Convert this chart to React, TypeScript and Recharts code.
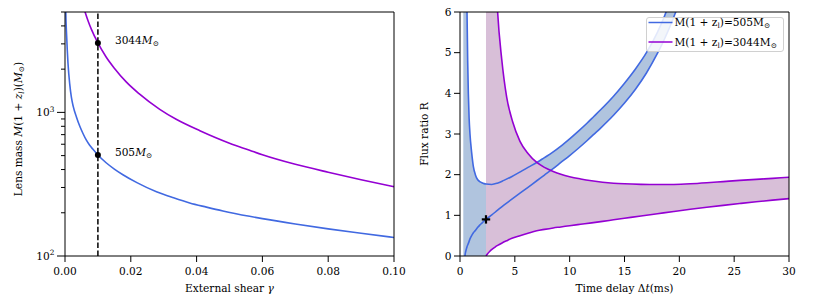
import React from 'react';
import { ComposedChart, Line, Area, Scatter, XAxis, YAxis, ReferenceLine } from 'recharts';

const FONT = "'DejaVu Serif', serif";
const FS = 10.6;
const SUB = 7.4;
const BLUE = '#4169e1';
const PURPLE = '#9400d3';
const BLUE_FILL = '#b0c4de';
const PURPLE_FILL = '#d8bfd8';

// ---------- Left panel: lens mass vs external shear ----------
const SHEAR_TICKS = [0, 0.02, 0.04, 0.06, 0.08, 0.1];
const MASS_TICKS = [100, 200, 300, 400, 500, 600, 700, 800, 900, 1000, 2000, 3000, 4000, 5000];

const BLUE_GAMMA = [0.0001, 0.00021, 0.0005, 0.00091, 0.00143, 0.00195, 0.0025, 0.0035, 0.0045, 0.0055, 0.0065, 0.0075, 0.0085, 0.01, 0.0125, 0.015, 0.0176, 0.022, 0.0278, 0.033, 0.0379, 0.043, 0.048, 0.0561, 0.06, 0.07, 0.08, 0.09, 0.1];
const BLUE_MASS = [9000, 5380, 3400, 2200, 1580, 1270, 1100, 925, 800, 710, 640, 590, 553, 505, 446, 403, 368, 323, 280, 254, 234, 219, 206, 189, 182, 167, 154.5, 144, 134.5];

const PURPLE_GAMMA = [0.0045, 0.0055, 0.0061, 0.007, 0.008, 0.01, 0.0125, 0.015, 0.0186, 0.0225, 0.0288, 0.0338, 0.041, 0.05, 0.0561, 0.06, 0.07, 0.08, 0.09, 0.1];
const PURPLE_MASS = [6800, 5550, 5000, 4350, 3800, 3044, 2430, 2030, 1630, 1350, 1050, 895, 745, 610, 545, 507, 435, 383, 340, 304];

const MARKED_GAMMA = 0.01;
const MARKED_MASSES = [3044, 505];
const MARKED_LABELS = ['3044', '505'];

// ---------- Right panel: flux ratio vs time delay ----------
const DELAY_TICKS = [0, 5, 10, 15, 20, 25, 30];
const RATIO_TICKS = [0, 1, 2, 3, 4, 5, 6];

const BLUE_T = [0.3, 0.45, 0.5, 0.55, 0.6, 0.64, 0.7, 0.76, 0.83, 0.91, 1.06, 1.22, 1.4, 1.6, 1.8, 2.0, 2.2, 2.37, 2.9, 3.4, 4.0, 4.7, 5.5, 6.2, 7.0, 7.7, 8.4, 9.2, 10.0, 10.8, 11.6, 12.2, 12.8, 14.0, 15.0, 16.0, 17.0, 18.0, 18.5, 19.0, 19.6, 20.0];
const BLUE_UPPER = [30, 14, 11, 9, 7.2, 6.0, 4.8, 4.0, 3.4, 3.0, 2.55, 2.2, 2.0, 1.88, 1.83, 1.8, 1.78, 1.77, 1.76, 1.79, 1.86, 1.95, 2.07, 2.18, 2.3, 2.42, 2.54, 2.7, 2.88, 3.07, 3.27, 3.43, 3.59, 3.93, 4.25, 4.6, 5.0, 5.5, 5.8, 6.15, 6.6, 6.9];
const BLUE_LOWER = [null, 0, 0.09, 0.14, 0.19, 0.23, 0.27, 0.31, 0.36, 0.42, 0.5, 0.57, 0.63, 0.7, 0.76, 0.81, 0.86, 0.9, 1.01, 1.12, 1.25, 1.39, 1.55, 1.69, 1.85, 1.99, 2.13, 2.3, 2.47, 2.65, 2.84, 2.99, 3.14, 3.46, 3.76, 4.1, 4.5, 4.98, 5.25, 5.55, 5.95, 6.22];

const PURPLE_T = [2.37, 2.5, 2.7, 3.0, 3.2, 3.43, 3.8, 4.26, 4.8, 5.47, 6.2, 7.0, 7.7, 8.5, 9.2, 10.0, 11.0, 12.0, 13.0, 14.0, 15.0, 16.5, 18.0, 19.5, 21.0, 22.5, 24.0, 25.5, 27.0, 28.5, 30.0];
const PURPLE_UPPER = [60, 40, 17, 9.3, 7.3, 6.0, 4.85, 3.9, 3.3, 2.82, 2.52, 2.3, 2.18, 2.08, 2.01, 1.95, 1.895, 1.85, 1.815, 1.79, 1.775, 1.762, 1.757, 1.76, 1.775, 1.8, 1.83, 1.86, 1.885, 1.91, 1.935];
const PURPLE_LOWER = [0, 0.05, 0.11, 0.18, 0.22, 0.26, 0.315, 0.375, 0.44, 0.5, 0.56, 0.62, 0.655, 0.69, 0.715, 0.745, 0.78, 0.815, 0.852, 0.89, 0.928, 0.985, 1.04, 1.095, 1.148, 1.198, 1.245, 1.29, 1.333, 1.373, 1.41];

const PURPLE_START_T = 2.37;
const OBS_T = [2.37];
const OBS_R = [0.9];
const LEGEND_MASSES = ['505', '3044'];
const LEGEND_COLORS = [BLUE, PURPLE];

type Part = { key: string; xs: number[]; ys: any[] };
function mergeRows(xKey: string, parts: Part[]) {
  const map = new Map<number, any>();
  parts.forEach((p) =>
    p.xs.forEach((x, i) => {
      const y = p.ys[i];
      if (y == null) return;
      let row = map.get(x);
      if (!row) {
        row = { [xKey]: x };
        map.set(x, row);
      }
      row[p.key] = y;
    })
  );
  return Array.from(map.values()).sort((a, b) => a[xKey] - b[xKey]);
}

const leftData = mergeRows('g', [
  { key: 'b', xs: BLUE_GAMMA, ys: BLUE_MASS },
  { key: 'p', xs: PURPLE_GAMMA, ys: PURPLE_MASS },
]);

const blueFill = BLUE_T.map((t, i) =>
  t <= PURPLE_START_T ? [0, BLUE_UPPER[i]] : [BLUE_LOWER[i], BLUE_UPPER[i]]
);
const purpleFill = PURPLE_T.map((_, i) => [PURPLE_LOWER[i], PURPLE_UPPER[i]]);

const rightData = mergeRows('t', [
  { key: 'bu', xs: BLUE_T, ys: BLUE_UPPER },
  { key: 'bl', xs: BLUE_T, ys: BLUE_LOWER },
  { key: 'pu', xs: PURPLE_T, ys: PURPLE_UPPER },
  { key: 'pl', xs: PURPLE_T, ys: PURPLE_LOWER },
  { key: 'bf', xs: BLUE_T, ys: blueFill },
  { key: 'pf', xs: PURPLE_T, ys: purpleFill },
]);

const markedData = MARKED_MASSES.map((m, i) => ({ g: MARKED_GAMMA, m, label: MARKED_LABELS[i] }));
const obsData = OBS_T.map((t, i) => ({ t, r: OBS_R[i] }));

const txt = { fontFamily: FONT, fontSize: FS, fill: '#000' } as const;

const makeXTick = (fmt: (v: number) => string) => (props: any) => {
  const { x, y, payload } = props;
  return (
    <g>
      <line x1={x} x2={x} y1={y} y2={y + 6} stroke="#000" strokeWidth={1} />
      <text x={x} y={y + 18.5} textAnchor="middle" {...txt}>
        {fmt(payload.value)}
      </text>
    </g>
  );
};

const LinYTick = (props: any) => {
  const { x, y, payload } = props;
  return (
    <g>
      <line x1={x - 6} x2={x} y1={y} y2={y} stroke="#000" strokeWidth={1} />
      <text x={x - 8.5} y={y + 3.8} textAnchor="end" {...txt}>
        {String(payload.value)}
      </text>
    </g>
  );
};

const LogYTick = (props: any) => {
  const { x, y, payload } = props;
  const lv = Math.log10(payload.value);
  const exp = Math.round(lv);
  const major = Math.abs(lv - exp) < 1e-6;
  const len = major ? 8 : 4;
  return (
    <g>
      <line x1={x - len} x2={x} y1={y} y2={y} stroke="#000" strokeWidth={1} />
      {major && (
        <text x={x - len - 2.5} y={y + 3.8} textAnchor="end" {...txt}>
          10
          <tspan fontSize={SUB} dy={-4.6}>
            {exp}
          </tspan>
        </text>
      )}
    </g>
  );
};

const MarkedDot = (props: any) => {
  const { cx, cy, payload } = props;
  return (
    <g>
      <circle cx={cx} cy={cy} r={3} fill="#000" />
      <text x={cx + 17} y={cy + 0.6} {...txt}>
        {payload.label}
        <tspan fontStyle="italic">M</tspan>
        <tspan fontSize={SUB} dy={2.4}>⊙</tspan>
      </text>
    </g>
  );
};

const PlusMarker = (props: any) => {
  const { cx, cy } = props;
  return (
    <g stroke="#000" strokeWidth={2.2}>
      <line x1={cx - 4.2} x2={cx + 4.2} y1={cy} y2={cy} />
      <line x1={cx} x2={cx} y1={cy - 4.2} y2={cy + 4.2} />
    </g>
  );
};

const lineProps = {
  type: 'monotone' as const,
  dot: false,
  activeDot: false,
  strokeWidth: 1.6,
  connectNulls: true,
  isAnimationActive: false,
};

export default function App() {
  return (
    <div style={{ position: 'absolute', left: 0, top: 0, width: 814, height: 305, background: '#fff', overflow: 'hidden' }}>
      <div style={{ position: 'absolute', left: 0, top: 0 }}>
        <ComposedChart width={410} height={305} data={leftData} margin={{ top: 12, right: 16, bottom: 0, left: 0 }}>
          <XAxis
            dataKey="g"
            type="number"
            domain={[0, 0.1]}
            ticks={SHEAR_TICKS}
            interval={0}
            allowDataOverflow
            height={49}
            tickSize={0}
            tickMargin={0}
            tickLine={false}
            axisLine={{ stroke: '#000', strokeWidth: 1 }}
            tick={makeXTick((v) => v.toFixed(2))}
          />
          <YAxis
            type="number"
            scale="log"
            domain={[100, 5000]}
            ticks={MASS_TICKS}
            interval={0}
            allowDataOverflow
            width={65}
            tickSize={0}
            tickMargin={0}
            tickLine={false}
            axisLine={{ stroke: '#000', strokeWidth: 1 }}
            tick={LogYTick}
          />
          <Line dataKey="b" stroke={BLUE} {...lineProps} />
          <Line dataKey="p" stroke={PURPLE} {...lineProps} />
          <ReferenceLine x={MARKED_GAMMA} stroke="#000" strokeWidth={1.5} strokeDasharray="5.5 2.4" />
          <ReferenceLine y={5000} stroke="#000" strokeWidth={1} />
          <ReferenceLine x={0.1} stroke="#000" strokeWidth={1} />
          <Scatter data={markedData} dataKey="m" shape={MarkedDot} isAnimationActive={false} />
        </ComposedChart>
      </div>

      <div style={{ position: 'absolute', left: 410, top: 0 }}>
        <ComposedChart width={404} height={305} data={rightData} margin={{ top: 12, right: 25, bottom: 0, left: 0 }}>
          <XAxis
            dataKey="t"
            type="number"
            domain={[0, 30]}
            ticks={DELAY_TICKS}
            interval={0}
            allowDataOverflow
            height={49}
            tickSize={0}
            tickMargin={0}
            tickLine={false}
            axisLine={{ stroke: '#000', strokeWidth: 1 }}
            tick={makeXTick((v) => String(v))}
          />
          <YAxis
            type="number"
            domain={[0, 6]}
            ticks={RATIO_TICKS}
            interval={0}
            allowDataOverflow
            width={50}
            tickSize={0}
            tickMargin={0}
            tickLine={false}
            axisLine={{ stroke: '#000', strokeWidth: 1 }}
            tick={LinYTick}
          />
          <Area dataKey="bf" type="monotone" stroke="none" fill={BLUE_FILL} fillOpacity={1} connectNulls isAnimationActive={false} activeDot={false} />
          <Area dataKey="pf" type="monotone" stroke="none" fill={PURPLE_FILL} fillOpacity={1} connectNulls isAnimationActive={false} activeDot={false} />
          <Line dataKey="bu" stroke={BLUE} {...lineProps} />
          <Line dataKey="bl" stroke={BLUE} {...lineProps} />
          <Line dataKey="pu" stroke={PURPLE} {...lineProps} />
          <Line dataKey="pl" stroke={PURPLE} {...lineProps} />
          <ReferenceLine y={6} stroke="#000" strokeWidth={1} />
          <ReferenceLine x={30} stroke="#000" strokeWidth={1} />
          <Scatter data={obsData} dataKey="r" shape={PlusMarker} isAnimationActive={false} />
        </ComposedChart>
      </div>

      <svg width={814} height={305} style={{ position: 'absolute', left: 0, top: 0, pointerEvents: 'none' }}>
        <text x={229.5} y={292} textAnchor="middle" {...txt}>
          External shear <tspan fontStyle="italic">γ</tspan>
        </text>
        <text x={624.5} y={292} textAnchor="middle" {...txt}>
          Time delay Δ<tspan fontStyle="italic">t</tspan>(ms)
        </text>
        <text transform="translate(21.5,129) rotate(-90)" textAnchor="middle" {...txt}>
          Lens mass <tspan fontStyle="italic">M</tspan>(1 + <tspan fontStyle="italic">z</tspan>
          <tspan fontStyle="italic" fontSize={SUB} dy={2}>l</tspan>
          <tspan dy={-2}>)(</tspan>
          <tspan fontStyle="italic">M</tspan>
          <tspan fontSize={SUB} dy={2}>⊙</tspan>
          <tspan dy={-2}>)</tspan>
        </text>
        <text transform="translate(428,134) rotate(-90)" textAnchor="middle" {...txt}>
          Flux ratio R
        </text>
      </svg>

      <div
        style={{
          position: 'absolute',
          left: 645.5,
          top: 16.5,
          width: 138,
          height: 35,
          boxSizing: 'border-box',
          border: '1px solid #d0d0d0',
          borderRadius: 3,
          background: 'rgba(255,255,255,0.85)',
        }}
      >
        <svg width={138} height={35} style={{ position: 'absolute', left: -1, top: -1 }}>
          {LEGEND_MASSES.map((m, i) => {
            const cy = 5.5 + i * 19.5;
            return (
              <g key={m}>
                <line x1={2.5} x2={26.5} y1={cy} y2={cy} stroke={LEGEND_COLORS[i]} strokeWidth={1.5} />
                <text x={28.5} y={cy + 3.8} {...txt}>
                  M(1 + z<tspan fontSize={SUB} dy={2}>l</tspan>
                  <tspan dy={-2}>)=</tspan>
                  {m}M<tspan fontSize={SUB} dy={2}>⊙</tspan>
                </text>
              </g>
            );
          })}
        </svg>
      </div>
    </div>
  );
}
